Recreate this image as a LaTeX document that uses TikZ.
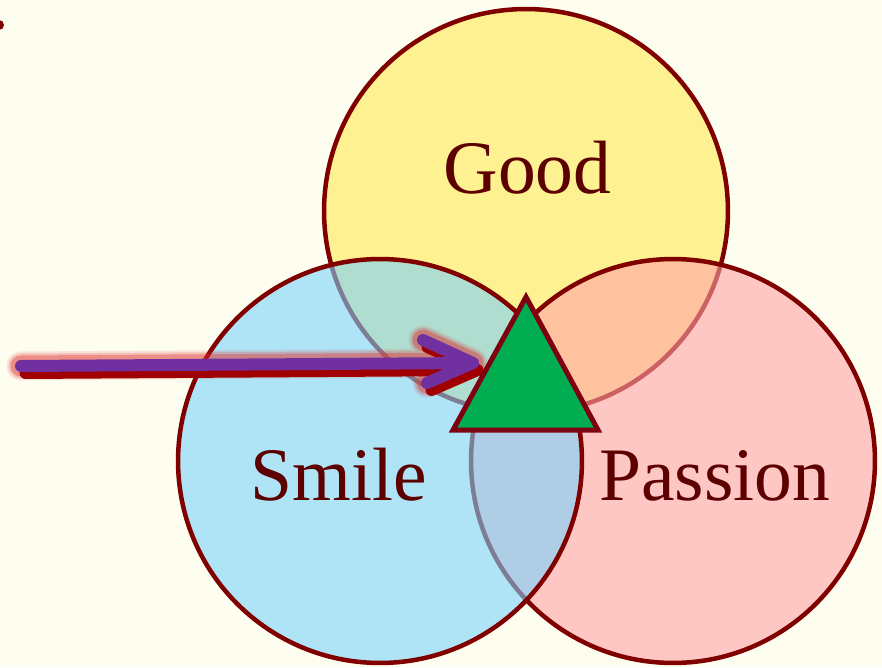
\documentclass[tikz,border=0pt]{standalone}
\usepackage{fontspec}
\setmainfont{Liberation Serif}

\begin{document}
\begin{tikzpicture}[x=0.02cm, y=0.02cm,
  cerchio/.style={circle, inner sep=0pt, minimum size=8.08cm, draw=bordoRosso, line width=0.09cm, fill opacity=0.6},
  etichetta/.style={anchor=base, inner sep=0pt, text=testoRosso, font=\fontsize{43}{50}\selectfont},
  freccia/.style={line cap=round, line join=round}]

% Colori
\definecolor{sfondo}{HTML}{FDFEF0}
\definecolor{colGood}{HTML}{FFE952}
\definecolor{colPassion}{HTML}{FFA3A7}
\definecolor{colSmile}{HTML}{7BD2FA}
\definecolor{bordoRosso}{HTML}{800000}
\definecolor{testoRosso}{HTML}{5C0000}
\definecolor{colTri}{HTML}{00AD50}
\definecolor{bordoTri}{HTML}{7F0010}
\definecolor{colFreccia}{HTML}{7030A0}
\definecolor{colOmbra}{HTML}{A00000}
\definecolor{colAlone}{HTML}{E03030}

% Sfondo
\fill[sfondo] (0,0) rectangle (882,667);
\useasboundingbox (0,0) rectangle (882,667);
\fill[bordoRosso] (-1,642) circle[radius=0.1cm];

% Cerchi
\node[cerchio, fill=colGood] (good) at (526,456) {};
\node[cerchio, fill=colPassion] (passion) at (673,206) {};
\node[cerchio, fill=colSmile] (smile) at (380,206) {};

% Etichette
\node[etichetta] (tGood) at (527.5,474) {Good};
\node[etichetta] (tSmile) at (338.5,167) {Smile};
\node[etichetta] (tPassion) at (714.5,167) {Passion};

% Freccia
\coordinate (arrStart) at (21,301);
\coordinate (arrTip) at (473,304);
\coordinate (barbA) at (423,327);
\coordinate (barbB) at (427,284);
\def\arrowpath{(arrStart) -- (arrTip) (barbA) -- (arrTip) -- (barbB)}

\foreach \w/\o in {0.58/0.12, 0.50/0.2, 0.42/0.35}
  \draw[freccia, draw=colAlone, line width=\w cm, draw opacity=\o] \arrowpath;
\draw[freccia, draw=colOmbra, line width=0.24cm, transform canvas={xshift=0.09cm, yshift=-0.14cm}] \arrowpath;
\draw[freccia, draw=colFreccia, line width=0.24cm] \arrowpath;

% Triangolo
\coordinate (triTop) at (526,370);
\coordinate (triLeft) at (453,237);
\coordinate (triRight) at (598,237);
\draw[fill=colTri, draw=bordoTri, line width=0.1cm, line join=miter] (triTop) -- (triLeft) -- (triRight) -- cycle;
\end{tikzpicture}
\end{document}
